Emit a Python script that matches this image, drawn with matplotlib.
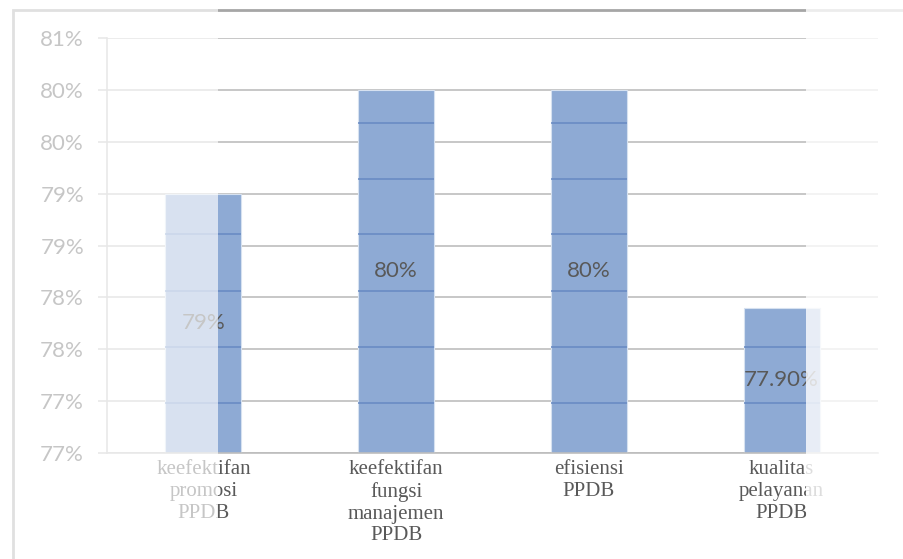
import numpy as np
import matplotlib
matplotlib.use("Agg")
import matplotlib.pyplot as plt
from matplotlib.patches import Rectangle
from matplotlib.ticker import FuncFormatter

# data (percent)
categories = ["keefektifan\npromosi\nPPDB",
              "keefektifan\nfungsi\nmanajemen\nPPDB",
              "efisiensi\nPPDB",
              "kualitas\npelayanan\nPPDB"]
values = [79.0, 80.0, 80.0, 77.9]
value_labels = ["79%", "80%", "80%", "77.90%"]
band_levels = [76.98, 77.52, 78.06, 78.61, 79.14, 79.68]

bar_color = "#8eaad4"
band_color = "#6689c2"
grid_color = "#bdbdbd"
text_color = "#595959"

fig = plt.figure(figsize=(9.04, 5.59), dpi=100)
ax = fig.add_axes([107 / 904, 1 - 453 / 559, (878 - 107) / 904, (453 - 38) / 559])

x = np.arange(len(categories))
width = 0.395
ymin, ymax = 76.5, 80.5

ax.bar(x, np.array(values) - ymin, bottom=ymin, width=width, color=bar_color,
       edgecolor="#d6e1f0", linewidth=0.8, zorder=2)

# darker bands inside the bars
for xi, v in zip(x, values):
    lv = [b for b in band_levels if b < v]
    ax.hlines(lv, xi - width / 2, xi + width / 2, color=band_color, lw=1.1, zorder=3)

for xi, v, lab in zip(x, values, value_labels):
    ax.text(xi, (v + ymin) / 2, lab, ha="center", va="center", color=text_color,
            fontsize=16, family="Lato", zorder=4)

ax.set_ylim(ymin, ymax)
ax.set_xlim(-0.5, len(categories) - 0.5)
ax.set_yticks(np.arange(ymin, ymax + 0.01, 0.5))
ax.yaxis.set_major_formatter(FuncFormatter(lambda v, p: f"{int(np.floor(v + 0.5 + 1e-9))}%"))
ax.grid(axis="y", color=grid_color, lw=1.2, zorder=0)
ax.set_axisbelow(True)

ax.set_xticks(x)
ax.set_xticklabels(categories, family="Liberation Serif", fontsize=15,
                   color=text_color, linespacing=1.2)
ax.tick_params(axis="x", length=0, pad=5)
ax.tick_params(axis="y", length=6.5, width=1.2, color=grid_color, pad=10,
               labelsize=16, labelcolor=text_color)
for lab in ax.get_yticklabels():
    lab.set_family("Lato")

for s in ["top", "right"]:
    ax.spines[s].set_visible(False)
ax.spines["left"].set_color(grid_color)
ax.spines["bottom"].set_color(grid_color)
ax.spines["left"].set_linewidth(1.2)
ax.spines["bottom"].set_linewidth(1.2)

# chart border
fig.add_artist(Rectangle((13 / 904, -0.2), 1.2, 1 - 10 / 559 + 0.2,
                         transform=fig.transFigure, fill=False,
                         edgecolor="#a6a6a6", lw=2, zorder=5))

# washed-out strips on the left and right
fig.add_artist(Rectangle((0, 0), 218 / 904, 1, transform=fig.transFigure,
                         color="white", alpha=0.66, lw=0, zorder=10))
fig.add_artist(Rectangle((806 / 904, 0), 1 - 806 / 904, 1, transform=fig.transFigure,
                         color="white", alpha=0.8, lw=0, zorder=10))

fig.savefig("out.png", dpi=100)
